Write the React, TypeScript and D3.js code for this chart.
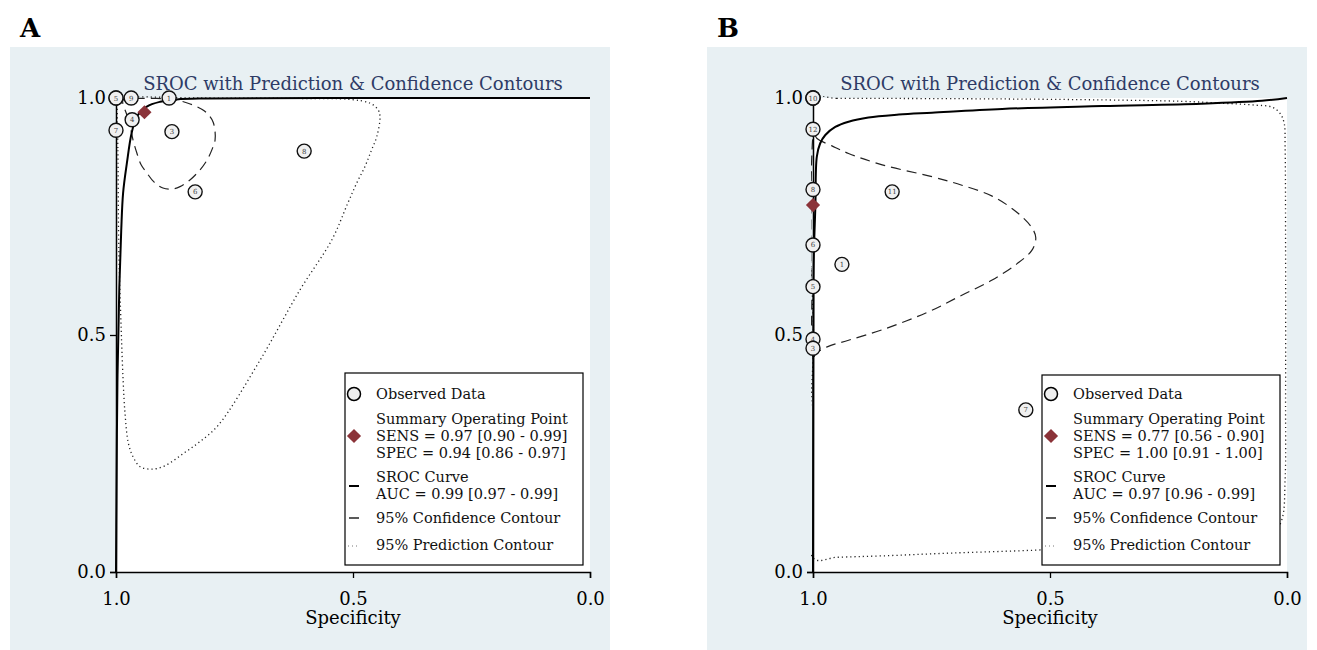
import React, { useEffect, useRef } from 'react';
import * as d3 from 'd3';

// every point is [specificity, sensitivity]
type Pt = [number, number];
type Study = [string, number, number];

const TITLE = 'SROC with Prediction & Confidence Contours';
const X_LABEL = 'Specificity';
const TICKS = [0.0, 0.5, 1.0];

// ---- panel A ----
const studiesA: Study[] = [
  ['2', 1.0, 1.0], ['5', 1.0, 1.0], ['9', 0.968, 1.0], ['1', 0.888, 1.0],
  ['4', 0.966, 0.954], ['7', 1.0, 0.932], ['3', 0.882, 0.929],
  ['8', 0.603, 0.888], ['6', 0.833, 0.802],
];
const summaryA: Pt = [0.94, 0.97];
const srocA: Pt[] = [
  [1.0, 0.0], [0.999, 0.15], [0.997, 0.4], [0.993, 0.6], [0.989, 0.72],
  [0.985, 0.80], [0.977, 0.863], [0.967, 0.926], [0.956, 0.961], [0.935, 0.982],
  [0.907, 0.992], [0.872, 0.997], [0.81, 0.999], [0.5, 1.0], [0.0, 1.0],
];
const confA: Pt[] = [
  [0.985, 0.996], [0.977, 0.964], [0.970, 0.939], [0.964, 0.911], [0.956, 0.884],
  [0.947, 0.859], [0.935, 0.842], [0.920, 0.823], [0.901, 0.810], [0.882, 0.808],
  [0.865, 0.813], [0.844, 0.827], [0.823, 0.848], [0.808, 0.869], [0.798, 0.890],
  [0.791, 0.911], [0.791, 0.929], [0.795, 0.949], [0.802, 0.961], [0.814, 0.973],
  [0.830, 0.982], [0.848, 0.989], [0.865, 0.994], [0.890, 0.998], [0.914, 0.999],
  [0.950, 0.999],
];
const predA: Pt[] = [
  [0.998, 0.998], [0.996, 0.890], [0.994, 0.679], [0.989, 0.511], [0.985, 0.405],
  [0.981, 0.335], [0.974, 0.272], [0.964, 0.243], [0.949, 0.222], [0.925, 0.217],
  [0.897, 0.224], [0.858, 0.250], [0.823, 0.275], [0.784, 0.310], [0.696, 0.447],
  [0.612, 0.595], [0.545, 0.700], [0.511, 0.778], [0.492, 0.821], [0.475, 0.855],
  [0.461, 0.890], [0.450, 0.918], [0.443, 0.960], [0.447, 0.975], [0.464, 0.989],
  [0.506, 0.997], [0.612, 0.999], [0.823, 1.0], [0.998, 1.0],
];
const legendA = [
  'SENS = 0.97 [0.90 - 0.99]',
  'SPEC = 0.94 [0.86 - 0.97]',
  'AUC = 0.99 [0.97 - 0.99]',
];

// ---- panel B ----
const studiesB: Study[] = [
  ['2', 1.0, 1.0], ['9', 1.0, 1.0], ['10', 1.0, 1.0], ['12', 1.0, 0.934], ['8', 1.0, 0.807],
  ['6', 1.0, 0.690], ['5', 1.0, 0.602], ['4', 1.0, 0.491], ['3', 1.0, 0.472],
  ['1', 0.939, 0.649], ['11', 0.833, 0.802], ['7', 0.551, 0.342],
];
const summaryB: Pt = [1.0, 0.774];
const srocB: Pt[] = [
  [1.0, 0.0], [0.9995, 0.4], [0.999, 0.6], [0.998, 0.679], [0.995, 0.771],
  [0.992, 0.876], [0.985, 0.904], [0.974, 0.922], [0.953, 0.939], [0.925, 0.950],
  [0.883, 0.959], [0.819, 0.965], [0.749, 0.969], [0.601, 0.977], [0.390, 0.983],
  [0.181, 0.988], [0.053, 0.994], [0.0, 1.0],
];
const confB: Pt[] = [
  [0.998, 0.928], [0.992, 0.915], [0.960, 0.899], [0.925, 0.883], [0.854, 0.859],
  [0.749, 0.834], [0.686, 0.816], [0.622, 0.793], [0.570, 0.759], [0.538, 0.726],
  [0.530, 0.705], [0.538, 0.679], [0.570, 0.650], [0.622, 0.616], [0.686, 0.584],
  [0.756, 0.549], [0.854, 0.511], [0.925, 0.489], [0.970, 0.475], [0.995, 0.460],
  [0.999, 0.447],
];
const predB: Pt[] = [
  [0.999, 0.999], [0.95, 0.999], [0.812, 0.999], [0.601, 0.998], [0.390, 0.996],
  [0.222, 0.993], [0.137, 0.989], [0.068, 0.985], [0.032, 0.981], [0.015, 0.968],
  [0.006, 0.947], [0.004, 0.897], [0.003, 0.679], [0.003, 0.363], [0.004, 0.194],
  [0.011, 0.110], [0.032, 0.078], [0.179, 0.061], [0.390, 0.053], [0.532, 0.046],
  [0.707, 0.040], [0.854, 0.034], [0.95, 0.031], [0.999, 0.029], [0.999, 0.5],
];
const legendB = [
  'SENS = 0.77 [0.56 - 0.90]',
  'SPEC = 1.00 [0.91 - 1.00]',
  'AUC = 0.97 [0.96 - 0.99]',
];

const BG = '#e8f0f3';
const NAVY = '#2e3b66';
const RED = '#8b3339';
const FONT = '"DejaVu Serif", serif';

export default function App() {
  const svgRef = useRef<SVGSVGElement>(null);

  useEffect(() => {
    if (!svgRef.current) return;
    const svg = d3.select(svgRef.current);
    svg.selectAll('*').remove();

    const panels = [
      { key: 'A', bgX: 10, studies: studiesA, summary: summaryA, sroc: srocA, conf: confA, pred: predA, legend: legendA, legTop: 373 },
      { key: 'B', bgX: 707, studies: studiesB, summary: summaryB, sroc: srocB, conf: confB, pred: predB, legend: legendB, legTop: 375 },
    ];

    panels.forEach(p => {
      const g = svg.append('g').style('font-family', FONT);
      const x0 = p.bgX + 106;
      const size = 474;
      const top = 98;

      const x = d3.scaleLinear().domain([1, 0]).range([x0, x0 + size]);
      const y = d3.scaleLinear().domain([0, 1]).range([top + size, top]);

      // panel letter
      g.append('text').attr('x', p.bgX + 10).attr('y', 37)
        .attr('font-size', 26).attr('font-weight', 'bold').text(p.key);

      // graph region and plot region
      g.append('rect').attr('x', p.bgX).attr('y', 47).attr('width', 600).attr('height', 620).attr('fill', BG);
      g.append('rect').attr('x', x0).attr('y', top).attr('width', size).attr('height', size).attr('fill', '#fff');

      g.append('text').attr('x', x0 + size / 2).attr('y', 90).attr('text-anchor', 'middle')
        .attr('font-size', 18).attr('fill', NAVY).text(TITLE);

      const clipId = `clip-${p.key}`;
      g.append('clipPath').attr('id', clipId).append('rect')
        .attr('x', x0 - 2).attr('y', top - 2).attr('width', size + 4).attr('height', size + 4);

      const plot = g.append('g').attr('clip-path', `url(#${clipId})`);
      const line = d3.line<Pt>().x(d => x(d[0])).y(d => y(d[1])).curve(d3.curveCatmullRom.alpha(0.5));
      const closed = d3.line<Pt>().x(d => x(d[0])).y(d => y(d[1])).curve(d3.curveCatmullRomClosed.alpha(0.5));

      plot.append('path').attr('d', closed(p.pred)).attr('fill', 'none')
        .attr('stroke', '#222').attr('stroke-width', 1.3).attr('stroke-dasharray', '1.2,3');
      plot.append('path').attr('d', closed(p.conf)).attr('fill', 'none')
        .attr('stroke', '#222').attr('stroke-width', 1.2).attr('stroke-dasharray', '10,6');
      plot.append('path').attr('d', line(p.sroc)).attr('fill', 'none')
        .attr('stroke', '#000').attr('stroke-width', 2);

      // axes
      const yAxis = g.append('g').attr('transform', `translate(${x0},0)`)
        .call(d3.axisLeft(y).tickValues(TICKS).tickFormat(d3.format('.1f')).tickSize(6).tickPadding(4));
      const xAxis = g.append('g').attr('transform', `translate(0,${top + size})`)
        .call(d3.axisBottom(x).tickValues(TICKS).tickFormat(d3.format('.1f')).tickSize(6).tickPadding(14));
      [yAxis, xAxis].forEach(a => {
        a.attr('font-family', FONT).attr('font-size', 18);
        a.select('.domain').attr('stroke', '#000').attr('stroke-width', 1.5);
        a.selectAll('.tick line').attr('stroke', '#000').attr('stroke-width', 1.3);
        a.selectAll('.tick text').attr('fill', '#000');
      });

      g.append('text').attr('x', x0 + size / 2).attr('y', 624).attr('text-anchor', 'middle')
        .attr('font-size', 18).text(X_LABEL);

      // studies
      const st = g.append('g');
      p.studies.forEach(([id, sp, se]) => {
        st.append('circle').attr('cx', x(sp)).attr('cy', y(se)).attr('r', 7)
          .attr('fill', '#f0f0f0').attr('stroke', '#111').attr('stroke-width', 1.4);
        st.append('text').attr('x', x(sp)).attr('y', y(se) + 2.5).attr('text-anchor', 'middle')
          .attr('font-size', 7).attr('fill', '#444').text(id);
      });

      g.append('path').attr('d', d3.symbol(d3.symbolSquare, 100)())
        .attr('transform', `translate(${x(p.summary[0])},${y(p.summary[1])}) rotate(45)`)
        .attr('fill', RED);

      // legend
      const lx = x0 + size - 245;
      const lt = p.legTop;
      const leg = g.append('g').attr('font-size', 14.5);
      leg.append('rect').attr('x', lx).attr('y', lt).attr('width', 238).attr('height', 565 - lt)
        .attr('fill', '#fff').attr('stroke', '#000').attr('stroke-width', 1.2);
      const sx = lx + 9;
      const tx = lx + 31;
      leg.append('circle').attr('cx', sx).attr('cy', 394).attr('r', 6.5)
        .attr('fill', '#eee').attr('stroke', '#000').attr('stroke-width', 1.5);
      leg.append('path').attr('d', d3.symbol(d3.symbolSquare, 100)())
        .attr('transform', `translate(${sx},436) rotate(45)`).attr('fill', RED);
      leg.append('line').attr('x1', sx - 5).attr('x2', sx + 5).attr('y1', 486).attr('y2', 486)
        .attr('stroke', '#000').attr('stroke-width', 2);
      leg.append('line').attr('x1', sx - 5).attr('x2', sx + 5).attr('y1', 518).attr('y2', 518)
        .attr('stroke', '#000').attr('stroke-width', 1.3);
      leg.append('line').attr('x1', sx - 6).attr('x2', sx + 6).attr('y1', 546).attr('y2', 546)
        .attr('stroke', '#777').attr('stroke-width', 1).attr('stroke-dasharray', '1,3');
      const rows: [string, number][] = [
        ['Observed Data', 399],
        ['Summary Operating Point', 424],
        [p.legend[0], 441],
        [p.legend[1], 458],
        ['SROC Curve', 482],
        [p.legend[2], 499],
        ['95% Confidence Contour', 523],
        ['95% Prediction Contour', 550],
      ];
      rows.forEach(([t, yy]) => leg.append('text').attr('x', tx).attr('y', yy).attr('fill', '#111').text(t));
    });
  }, []);

  return (
    <div style={{ position: 'absolute', left: 0, top: 0, background: '#fff' }}>
      <svg ref={svgRef} width={1317} height={650} style={{ display: 'block' }} />
    </div>
  );
}
